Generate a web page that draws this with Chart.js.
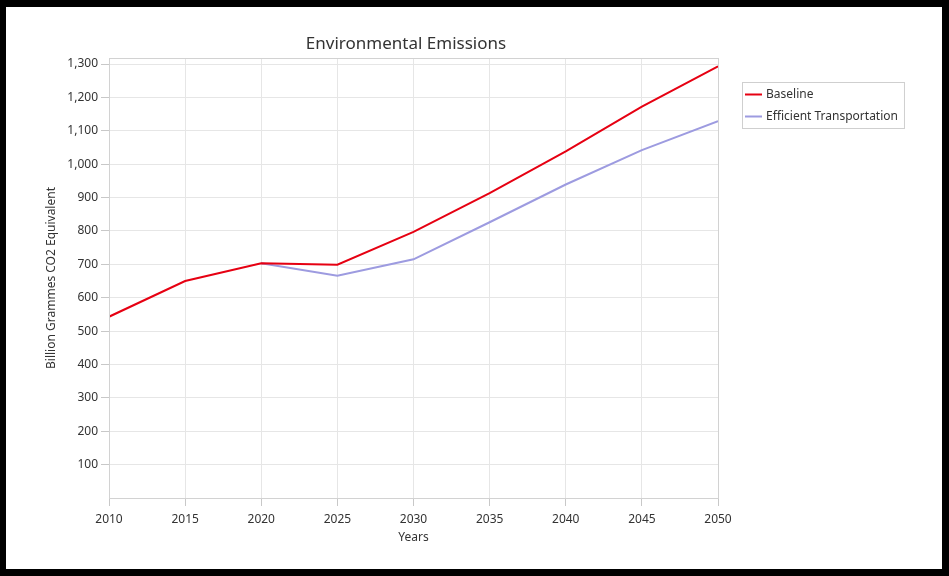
<!DOCTYPE html>
<html>
<head>
<meta charset="utf-8">
<script src="https://cdn.jsdelivr.net/npm/chart.js@4"></script>
<style>
  html, body { margin: 0; padding: 0; background: #000; }
  #frame {
    position: absolute; left: 6px; top: 7px;
    width: 936px; height: 562px; background: #fff;
  }
  #frame canvas { display: block; }
</style>
</head>
<body>
<div id="frame"><canvas id="emissionsChart" width="936" height="562"></canvas></div>
<script>
const years      = [2010, 2015, 2020, 2025, 2030, 2035, 2040, 2045, 2050];
const baseline   = [543, 650, 703, 699, 797, 913, 1038, 1172, 1293];
const efficient  = [null, null, 703, 666, 715, 826, 939, 1042, 1129];
const yTickVals  = [100, 200, 300, 400, 500, 600, 700, 800, 900, 1000, 1100, 1200, 1300];

const FONT = '"Noto Sans", "Open Sans", sans-serif';
const TEXT = '#333333';

// frame round the plot, chart title and the boxed legend on the right
const decor = {
    id: 'decor',
    afterDraw(chart) {
        const { ctx, chartArea: a } = chart;
        ctx.save();
        ctx.strokeStyle = '#d2d2d2';
        ctx.lineWidth = 1;
        ctx.strokeRect(a.left + 0.5, a.top + 0.5, a.right - a.left, a.bottom - a.top);

        ctx.fillStyle = TEXT;
        ctx.font = '17px ' + FONT;
        ctx.textAlign = 'center';
        ctx.textBaseline = 'middle';
        ctx.fillText('Environmental Emissions', 400, 37);

        const lx = a.right + 24, ly = 75;
        ctx.font = '12px ' + FONT;
        ctx.textAlign = 'left';
        const w = 24 + Math.max(...chart.data.datasets.map(d => ctx.measureText(d.label).width)) + 6;
        ctx.strokeStyle = '#cfcfcf';
        ctx.strokeRect(lx + 0.5, ly + 0.5, w, 46);
        chart.data.datasets.forEach((d, i) => {
            const y = ly + 12.5 + i * 22;
            ctx.strokeStyle = d.borderColor;
            ctx.lineWidth = 2;
            ctx.beginPath();
            ctx.moveTo(lx + 3, y);
            ctx.lineTo(lx + 20, y);
            ctx.stroke();
            ctx.fillStyle = TEXT;
            ctx.fillText(d.label, lx + 24, y);
        });
        ctx.restore();
    }
};

new Chart(document.getElementById('emissionsChart'), {
    type: 'line',
    data: {
        labels: years,
        datasets: [
            {
                label: 'Baseline',
                data: baseline,
                borderColor: '#e60012',
                borderWidth: 2,
                pointRadius: 0,
                tension: 0
            },
            {
                label: 'Efficient Transportation',
                data: efficient,
                borderColor: '#9d9be0',
                borderWidth: 2,
                pointRadius: 0,
                tension: 0
            }
        ]
    },
    options: {
        responsive: false,
        animation: false,
        layout: { padding: { top: 51, right: 224, left: 0, bottom: 0 } },
        plugins: {
            legend: { display: false },
            tooltip: { enabled: false }
        },
        scales: {
            x: {
                type: 'linear',
                min: 2010,
                max: 2050,
                ticks: {
                    stepSize: 5,
                    color: TEXT,
                    padding: 6,
                    font: { family: FONT, size: 12 },
                    callback: v => String(v)
                },
                grid: { color: '#e6e6e6', tickColor: '#c8c8c8', tickLength: 8 },
                border: { color: '#d2d2d2' },
                title: {
                    display: true,
                    text: 'Years',
                    color: TEXT,
                    font: { family: FONT, size: 12 },
                    padding: { top: 0, bottom: 24 }
                },
                afterFit: s => { s.height = 71; }
            },
            y: {
                min: 0,
                max: 1318,
                afterBuildTicks: s => { s.ticks = yTickVals.map(v => ({ value: v })); },
                ticks: {
                    color: TEXT,
                    padding: 3,
                    font: { family: FONT, size: 12 },
                    callback: v => v.toLocaleString('en-US')
                },
                grid: { color: '#e6e6e6', tickColor: '#c8c8c8', tickLength: 8 },
                border: { color: '#d2d2d2' },
                title: {
                    display: true,
                    text: 'Billion Grammes CO2 Equivalent',
                    color: TEXT,
                    font: { family: FONT, size: 12 },
                    padding: { top: 38, bottom: 0 }
                },
                afterFit: s => { s.width = 103; }
            }
        }
    },
    plugins: [decor]
});
</script>
</body>
</html>
